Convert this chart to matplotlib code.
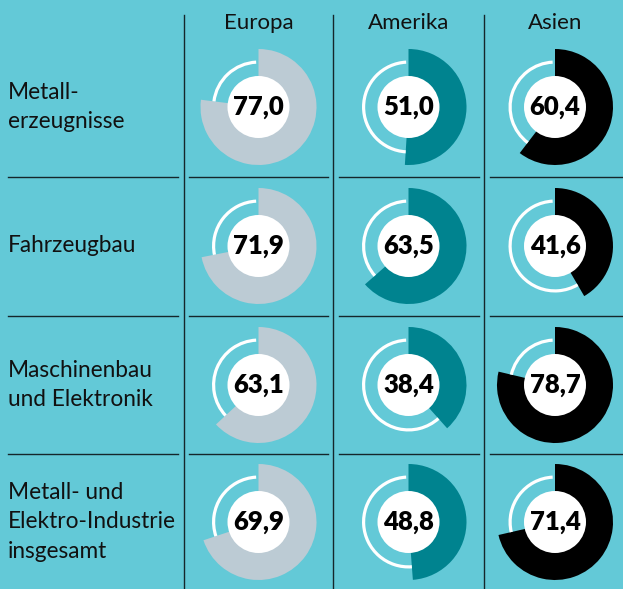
import numpy as np
import matplotlib
matplotlib.use('Agg')
import matplotlib.pyplot as plt
from matplotlib.patches import Wedge, Circle

regions = ["Europa", "Amerika", "Asien"]
sectors = ["Metall-\nerzeugnisse", "Fahrzeugbau", "Maschinenbau\nund Elektronik",
           "Metall- und\nElektro-Industrie\ninsgesamt"]
europa = [77.0, 71.9, 63.1, 69.9]
amerika = [51.0, 63.5, 38.4, 48.8]
asien = [60.4, 41.6, 78.7, 71.4]
colors = ["#bccbd4", "#00838f", "#000000"]
bg = "#63c9d7"

W, H = 623, 589
fig = plt.figure(figsize=(W / 100, H / 100), dpi=100, facecolor=bg)
ax = fig.add_axes([0, 0, 1, 1])
ax.set_xlim(0, W)
ax.set_ylim(0, H)
ax.set_facecolor(bg)
ax.axis('off')
plt.rcParams['font.family'] = ['Lato', 'DejaVu Sans']

col_x = [258.5, 408.5, 555]
row_y = [H - 107, H - 246, H - 385, H - 522]
vlines = [184, 333, 484]
hlines = [H - 177, H - 316, H - 454]
line_col = "#15262b"

for x in vlines:
    ax.plot([x, x], [0, H - 15], color=line_col, lw=1.0)
seg = [(8, 178), (189, 328), (339, 479), (490, W)]
for y in hlines:
    for a, b in seg:
        ax.plot([a, b], [y, y], color=line_col, lw=1.0)

for j, name in enumerate(regions):
    ax.text(col_x[j], H - 23, name, ha='center', va='center', fontsize=16, color='#111')

for i, lab in enumerate(sectors):
    ax.text(8, row_y[i], lab, ha='left', va='center', fontsize=16.3, color='#111',
            linespacing=1.5)

data = [europa, amerika, asien]
R_out, R_arc, R_in = 58, 46.5, 31
gap = 3
for j, vals in enumerate(data):
    for i, v in enumerate(vals):
        cx, cy = col_x[j], row_y[i]
        ang = 360 * v / 100
        ax.add_patch(Wedge((cx, cy), R_out, 90 - ang, 90, color=colors[j], lw=0))
        ax.add_patch(Wedge((cx, cy), R_arc, 90 + gap, 450 - ang, width=3.2,
                           color='white', lw=0))
        ax.add_patch(Circle((cx, cy), R_in, color='white', lw=0))
        ax.text(cx, cy, f"{v:.1f}".replace('.', ','), ha='center', va='center',
                fontsize=18.5, fontweight='heavy', color='black')

fig.savefig("out.png", dpi=100, facecolor=bg)
